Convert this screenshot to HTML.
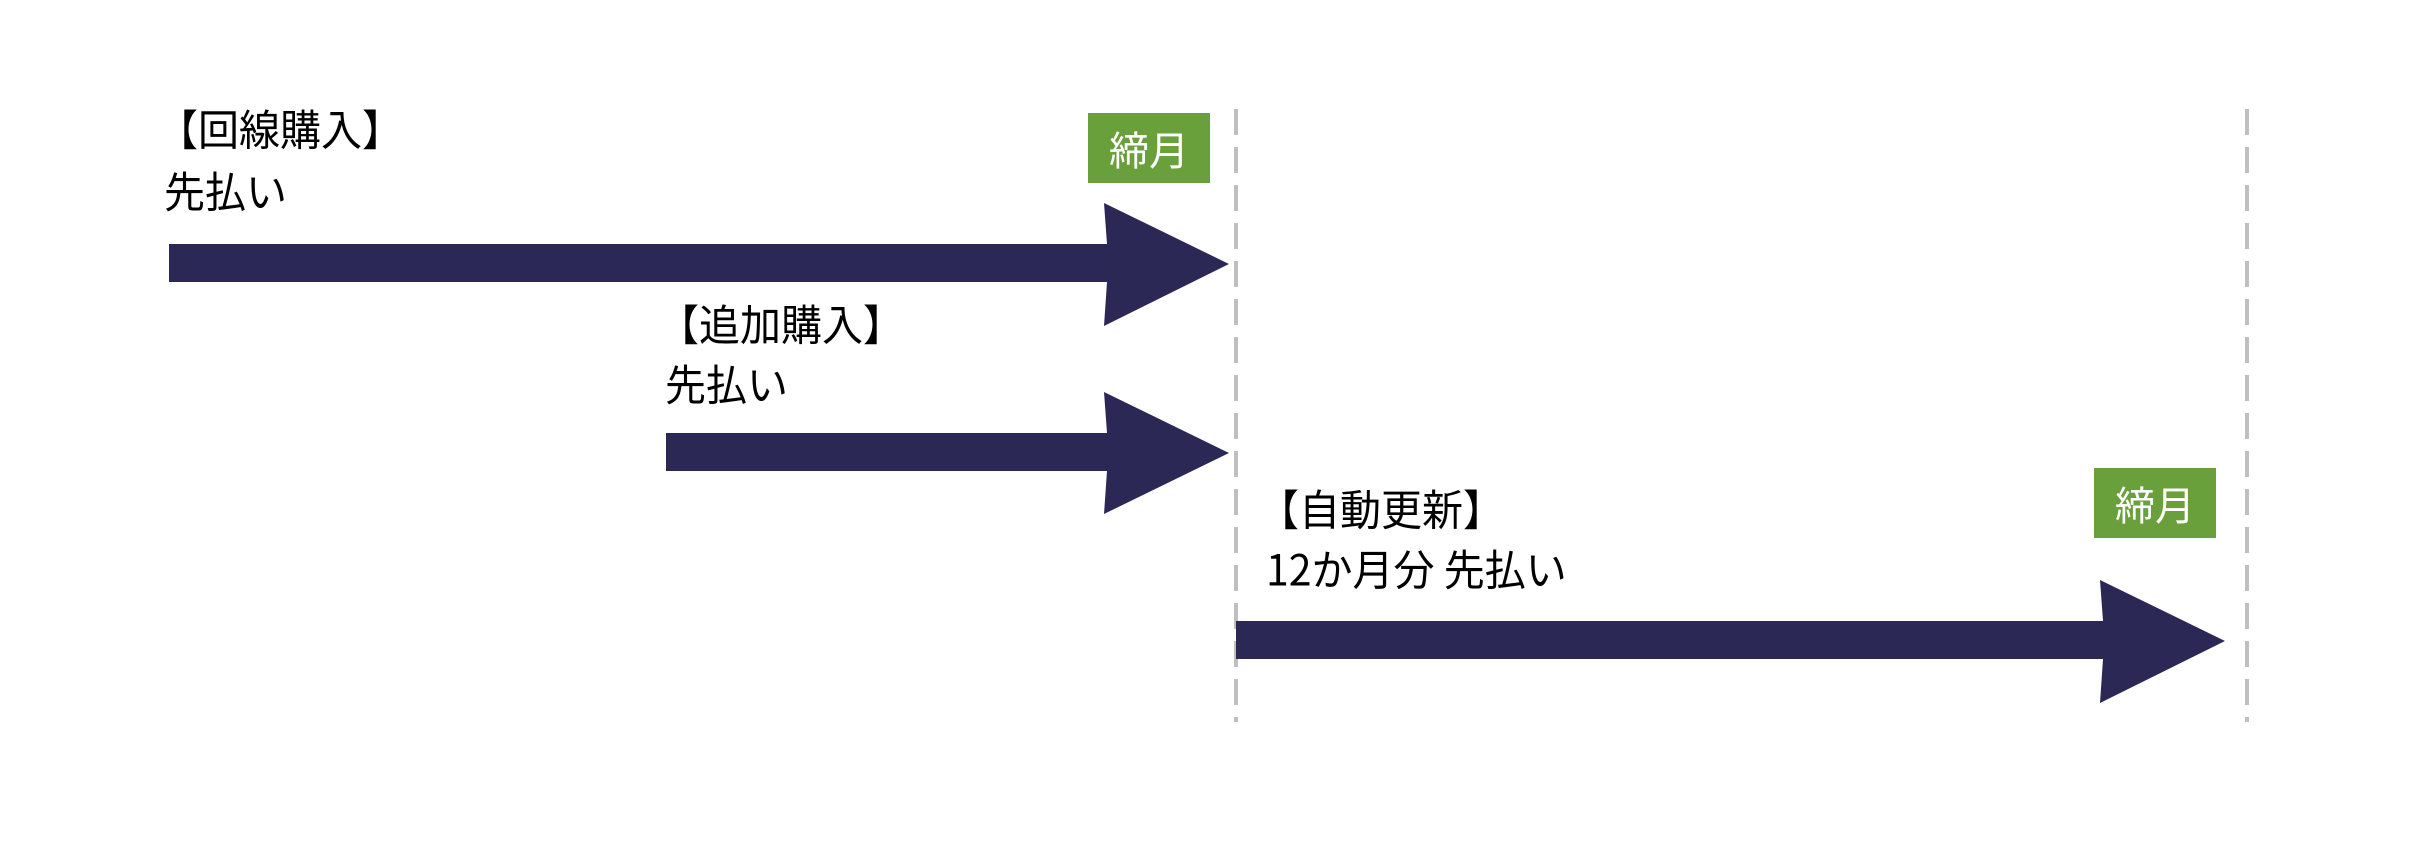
<!DOCTYPE html>
<html><head><meta charset="utf-8"><style>
html,body{margin:0;padding:0;background:#fff;}
body{width:2417px;height:842px;position:relative;overflow:hidden;font-family:"Noto Sans CJK JP","Liberation Sans",sans-serif;}
.t{position:absolute;font-size:41px;line-height:1;color:#000;white-space:nowrap;transform:scale(1,1.04);transform-origin:left top;}
.g{position:absolute;background:#6aa03c;color:#fff;font-size:40px;display:flex;align-items:center;justify-content:center;}
svg{position:absolute;left:0;top:0;}
</style></head><body>
<svg width="2417" height="842">
<g stroke="#bfbfbf" stroke-width="4" stroke-dasharray="26,12">
<line x1="1236" y1="109" x2="1236" y2="722"/>
<line x1="2247" y1="109" x2="2247" y2="722"/>
</g>
<g fill="#2b2856">
<polygon points="169,244 1107,244 1104,203 1229,264 1104,326 1107,282 169,282"/>
<polygon points="666,433 1107,433 1104,392 1229,453 1104,514 1107,471 666,471"/>
<polygon points="1236,621 2103,621 2100,580 2225,641 2100,703 2103,659 1236,659"/>
</g>
</svg>
<div class="g" style="left:1088px;top:113px;width:122px;height:70px;">締月</div>
<div class="g" style="left:2094px;top:468px;width:122px;height:70px;">締月</div>
<div class="t" style="left:157px;top:106px;">【回線購入】</div>
<div class="t" style="left:164px;top:168px;">先払い</div>
<div class="t" style="left:658px;top:301px;">【追加購入】</div>
<div class="t" style="left:665px;top:361px;">先払い</div>
<div class="t" style="left:1258px;top:486px;">【自動更新】</div>
<div class="t" style="left:1266px;top:546px;">12か月分 先払い</div>
</body></html>
